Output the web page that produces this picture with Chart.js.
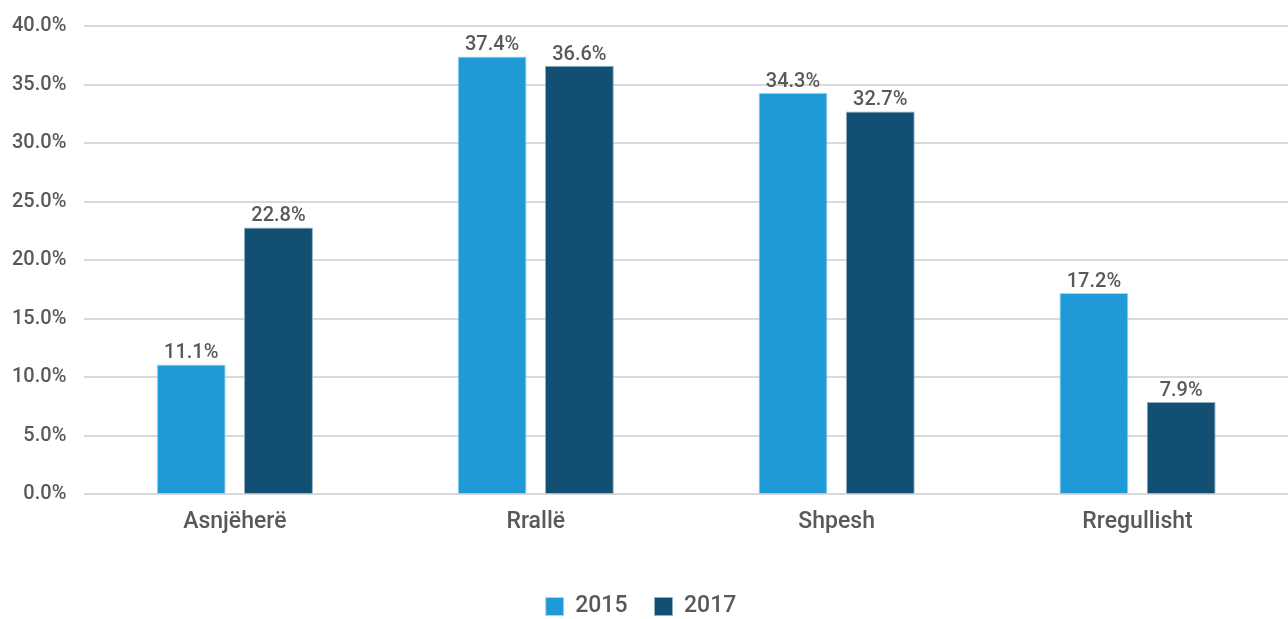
<!DOCTYPE html>
<html><head><meta charset="utf-8">
<script src="https://cdn.jsdelivr.net/npm/chart.js@4"></script>
<style>html,body{margin:0;padding:0;background:#fff}#wrap{width:1288px;height:619px}</style>
</head><body><div id="wrap"><canvas id="c" width="1288" height="619"></canvas></div>
<script>
const categories = ["Asnjëherë", "Rrallë", "Shpesh", "Rregullisht"];
const series2015 = [11.1, 37.4, 34.3, 17.2];
const series2017 = [22.8, 36.6, 32.7, 7.9];
const seriesLabels = ["2015", "2017"];
const FONT = "Roboto";
const TXT = "#595959";

const labelPlugin = {
  id: 'barLabels',
  afterDatasetsDraw(chart) {
    const ctx = chart.ctx;
    ctx.save();
    ctx.font = "500 20px " + FONT;
    ctx.fillStyle = TXT;
    ctx.textAlign = "center";
    ctx.textBaseline = "bottom";
    chart.data.datasets.forEach((ds, i) => {
      chart.getDatasetMeta(i).data.forEach((el, j) => {
        ctx.fillText(ds.data[j].toFixed(1) + "%", el.x, el.y - 1);
      });
    });
    ctx.restore();
  }
};

new Chart(document.getElementById('c'), {
  type: 'bar',
  data: {
    labels: categories,
    datasets: [
      {label: seriesLabels[0], data: series2015, backgroundColor: "#1f9ad6", borderColor: "#a9d5ee", borderWidth: 1},
      {label: seriesLabels[1], data: series2017, backgroundColor: "#124f72", borderColor: "#8fb0c4", borderWidth: 1}
    ]
  },
  options: {
    responsive: false,
    animation: false,
    layout: {padding: {top: 0, left: -6, right: 0, bottom: -9}},
    datasets: {bar: {categoryPercentage: 0.58, barPercentage: 0.79}},
    scales: {
      x: {
        grid: {display: false},
        border: {display: false},
        ticks: {color: TXT, font: {family: FONT, size: 23, weight: 500}, padding: 6},
        afterFit: axis => { axis.height += 26; }
      },
      y: {
        min: 0, max: 40,
        grid: {color: "#d9d9d9", lineWidth: 2, drawTicks: false},
        border: {display: false},
        ticks: {stepSize: 5, color: TXT, font: {family: FONT, size: 20, weight: 500, lineHeight: 0.8}, padding: 18,
          callback: v => v.toFixed(1) + "%"}
      }
    },
    plugins: {
      legend: {
        position: 'bottom',
        labels: {color: TXT, font: {family: FONT, size: 23, weight: 500}, boxWidth: 18, boxHeight: 18, padding: 27}
      },
      tooltip: {enabled: false}
    }
  },
  plugins: [labelPlugin]
});
</script></body></html>
